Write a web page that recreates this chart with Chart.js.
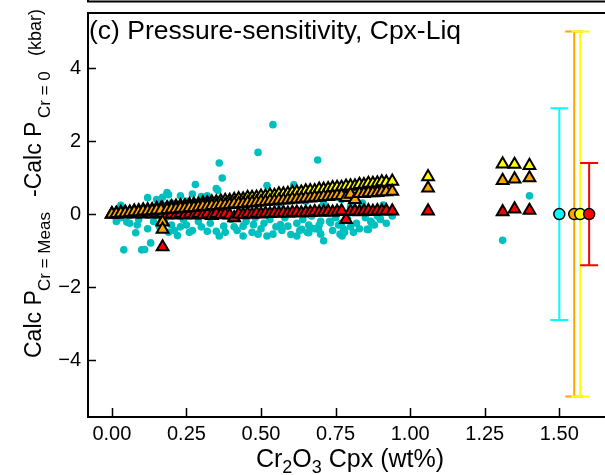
<!DOCTYPE html>
<html>
<head>
<meta charset="utf-8">
<script src="https://cdn.jsdelivr.net/npm/chart.js@4.4.0/dist/chart.umd.min.js"></script>
<style>
  html, body { margin: 0; padding: 0; background: #fff; overflow: hidden; }
  #wrap { width: 640px; height: 475px; }
</style>
</head>
<body>
<div id="wrap"><canvas id="chart" width="640" height="475"></canvas></div>
<script>
const xTicks = [0, 0.25, 0.5, 0.75, 1.0, 1.25, 1.5];
const yTicks = [-4, -2, 0, 2, 4];

// cyan dots (Cpx-Liq, all)
const cyanX = [
  0.54, 0.49, 0.69, 0.36, 0.37, 0.28, 0.35, 0.355, 0.32, 0.52,
  0.61, 0.185, 0.17, 0.15, 0.19, 0.12, 0.23, 0.27, 0.30, 0.03,
  1.40, 1.31, 0.04, 0.10, 0.11, 0.13, 0.08, 0.22, 0.71, 0.32,
  0.35, 0.375, 0.41, 0.44, 0.475, 0.50, 0.52, 0.54, 0.565, 0.59,
  0.60, 0.63, 0.655, 0.86, 0.87, 0.90, 0.68, 0.70, 0.74, 0.76,
  0.78, 0.80, 0.82, 0.05, 0.06, 0.01, 0.02, 0.25, 0.27, 0.29,
  0.24, 0.26, 0.30, 0.33, 0.38, 0.40, 0.42, 0.45, 0.47, 0.48,
  0.51, 0.53, 0.55, 0.57, 0.58, 0.62, 0.64, 0.66, 0.67, 0.73,
  0.75, 0.77, 0.79, 0.83, 0.85, 0.88, 0.92, 0.94, 0.14, 0.16,
  0.18, 0.20, 0.21, 0.12, 0.09, 0.07, 0.11, 0.13, 0.15, 0.17,
  0.20, 0.22, 0.25, 0.28, 0.31, 0.34, 0.36, 0.39, 0.42, 0.44,
  0.46, 0.50, 0.53, 0.56, 0.58, 0.60, 0.63, 0.65, 0.68, 0.71,
  0.74, 0.77, 0.80, 0.84, 0.44, 0.49, 0.36, 0.23, 0.19, 0.03,
  0.085, 0.015, 0.62, 0.695, 0.765, 0.81, 0.89, 0.935, 0.91, 0.637,
  0.66, 0.666, 0.693, 0.70, 0.733, 0.767, 0.772, 0.777, 0.856, 0.868,
  0.90
];
const cyanY = [
  2.45, 1.69, 1.48, 1.40, 0.99, 0.81, 0.70, 0.65, 0.50, 0.78,
  0.80, 0.59, 0.46, 0.40, 0.53, 0.45, 0.50, 0.55, 0.48, 0.24,
  0.50, -0.72, -0.98, -0.98, -0.97, -0.79, -0.51, -0.59, -0.73, -0.47,
  -0.47, -0.33, -0.35, -0.33, -0.29, -0.40, -0.60, -0.55, -0.29, -0.33,
  -0.56, -0.45, -0.50, -0.42, -0.23, -0.12, -0.40, -0.55, -0.45, -0.30,
  -0.50, -0.35, -0.25, -0.22, -0.25, -0.06, 0.05, -0.30, -0.45, -0.20,
  -0.15, -0.50, -0.35, -0.25, -0.50, -0.15, -0.45, -0.20, -0.50, -0.10,
  -0.25, -0.15, -0.35, -0.45, -0.10, -0.25, -0.15, -0.30, -0.05, -0.20,
  -0.10, -0.25, -0.12, -0.40, -0.10, -0.30, -0.25, -0.05, -0.20, -0.35,
  -0.10, -0.30, -0.45, -0.40, -0.15, 0.10, 0.15, 0.05, 0.20, 0.25,
  0.30, 0.15, 0.35, 0.25, 0.30, 0.20, 0.40, 0.30, 0.45, 0.25,
  0.35, 0.40, 0.50, 0.30, 0.55, 0.40, 0.60, 0.35, 0.50, 0.30,
  0.55, 0.40, 0.20, 0.30, -0.60, -0.55, -0.60, -0.35, -0.50, -0.10,
  -0.30, -0.20, -0.60, -0.30, -0.55, -0.50, -0.05, 0.10, 0.25, -0.42,
  -0.51, -0.38, -0.42, -0.20, -0.24, -0.29, -0.60, -0.42, -0.42, -0.20,
  -0.15
];

// triangles: same Cr2O3 values, three pressure models
const triX = [
  0.00, 0.015, 0.03, 0.045, 0.06, 0.075, 0.09, 0.105, 0.12, 0.135,
  0.15, 0.165, 0.17, 0.17, 0.185, 0.20, 0.215, 0.23, 0.245, 0.26,
  0.275, 0.29, 0.305, 0.32, 0.335, 0.35, 0.365, 0.38, 0.395, 0.41,
  0.425, 0.44, 0.455, 0.47, 0.485, 0.50, 0.515, 0.53, 0.545, 0.56,
  0.575, 0.59, 0.605, 0.62, 0.635, 0.65, 0.665, 0.68, 0.695, 0.71,
  0.725, 0.74, 0.755, 0.77, 0.785, 0.80, 0.815, 0.83, 0.845, 0.86,
  0.875, 0.89, 0.905, 0.92, 0.94, 1.06, 1.31, 1.35, 1.40
];
const yellowY = [
  0.00, 0.02, 0.04, 0.05, 0.05, 0.08, 0.09, 0.11, 0.12, 0.12,
  0.15, 0.16, -0.20, 0.15, 0.17, 0.20, 0.21, 0.23, 0.23, 0.26,
  0.27, 0.27, 0.30, 0.31, 0.33, 0.33, 0.36, 0.37, 0.37, 0.40,
  0.42, 0.41, 0.45, 0.45, 0.46, 0.49, 0.49, 0.52, 0.51, 0.55,
  0.55, 0.56, 0.59, 0.60, 0.60, 0.63, 0.64, 0.64, 0.68, 0.68,
  0.69, 0.72, 0.73, 0.73, 0.76, 0.77, 0.77, 0.81, 0.80, 0.84,
  0.84, 0.85, 0.88, 0.87, 0.90, 1.02, 1.37, 1.36, 1.33
];
const orangeY = [
  0.00, 0.01, 0.03, 0.03, 0.04, 0.06, 0.06, 0.08, 0.08, 0.09,
  0.11, 0.11, -0.22, -0.42, 0.12, 0.14, 0.14, 0.16, 0.16, 0.18,
  0.18, 0.19, 0.21, 0.21, 0.23, 0.23, 0.25, 0.25, 0.26, 0.28,
  0.28, 0.29, 0.31, 0.31, 0.32, 0.34, 0.34, 0.36, 0.36, 0.38,
  0.38, 0.39, 0.41, 0.41, 0.42, 0.44, 0.44, 0.46, 0.46, 0.48,
  0.48, 0.49, 0.51, 0.51, 0.45, 0.54, 0.40, 0.56, 0.56, 0.58,
  0.58, 0.59, 0.61, 0.61, 0.62, 0.71, 0.92, 0.96, 0.99
];
const redY = [
  0.00, 0.00, 0.01, 0.00, 0.01, 0.00, 0.01, 0.00, 0.01, 0.00,
  0.01, 0.00, -0.90, 0.01, -0.02, 0.00, -0.03, 0.01, -0.02, 0.00,
  -0.03, 0.01, -0.02, 0.00, -0.04, 0.01, -0.02, 0.00, -0.03, -0.10,
  0.00, -0.02, 0.01, -0.01, 0.02, 0.00, 0.02, 0.01, 0.03, 0.02,
  0.04, 0.02, 0.04, 0.05, 0.03, 0.05, 0.04, 0.06, 0.05, 0.06,
  0.07, 0.05, 0.07, 0.08, -0.15, 0.07, 0.08, 0.06, 0.08, 0.09,
  0.07, 0.09, 0.08, 0.09, 0.08, 0.08, 0.06, 0.14, 0.10
];

// mean offsets with 1 sigma bars
const errX = [1.50, 1.55, 1.57, 1.60];
const errY = [0, 0, 0, 0];
const errSize = [2.9, 5.0, 5.0, 1.4];
const errColors = ['#00FFFF', '#FFA500', '#FFFF00', '#FF0000'];

const FONT = '"Liberation Sans", Arial, Helvetica, sans-serif';

function drawRich(ctx, parts, x, y) {
  let cx = x;
  parts.forEach(p => {
    ctx.font = p.s + 'px ' + FONT;
    const px = (p.at !== undefined) ? x + p.at : cx;
    ctx.fillText(p.t, px, y + (p.dy || 0));
    cx = px + ctx.measureText(p.t).width;
  });
  return cx - x;
}
function richWidth(ctx, parts) {
  let w = 0;
  parts.forEach(p => {
    ctx.font = p.s + 'px ' + FONT;
    w += ctx.measureText(p.t).width;
  });
  return w;
}

const decor = {
  id: 'decor',
  beforeDatasetsDraw(chart) {
    const ctx = chart.ctx;
    const xs = chart.scales.x, ys = chart.scales.y;
    ctx.save();
    ctx.lineWidth = 2;
    errX.forEach((v, i) => {
      const px = xs.getPixelForValue(v);
      const top = ys.getPixelForValue(errY[i] + errSize[i]);
      const bot = ys.getPixelForValue(errY[i] - errSize[i]);
      ctx.strokeStyle = errColors[i];
      ctx.beginPath();
      ctx.moveTo(px, top); ctx.lineTo(px, bot);
      ctx.moveTo(px - 9, top); ctx.lineTo(px + 9, top);
      ctx.moveTo(px - 9, bot); ctx.lineTo(px + 9, bot);
      ctx.stroke();
    });
    ctx.restore();
  },
  afterDraw(chart) {
    const ctx = chart.ctx;
    const a = chart.chartArea;
    const xs = chart.scales.x, ys = chart.scales.y;
    ctx.save();
    ctx.strokeStyle = '#000';
    ctx.fillStyle = '#000';

    // frame of the panel above (only its bottom edge shows)
    ctx.lineWidth = 2;
    ctx.beginPath();
    ctx.moveTo(a.left, 0); ctx.lineTo(a.left, 1.5); ctx.lineTo(chart.width, 1.5);
    ctx.stroke();

    // frame
    ctx.strokeRect(a.left, a.top, a.right - a.left, a.bottom - a.top);

    // inward ticks
    ctx.lineWidth = 1.5;
    ctx.beginPath();
    xTicks.forEach(v => {
      const px = Math.round(xs.getPixelForValue(v)) + 0.5;
      ctx.moveTo(px, a.bottom); ctx.lineTo(px, a.bottom - 9);
    });
    yTicks.forEach(v => {
      const py = Math.round(ys.getPixelForValue(v)) + 0.5;
      ctx.moveTo(a.left, py); ctx.lineTo(a.left + 8, py);
    });
    ctx.stroke();

    // panel title
    ctx.textBaseline = 'alphabetic';
    ctx.textAlign = 'left';
    ctx.font = '26.5px ' + FONT;
    ctx.fillText('(c) Pressure-sensitivity, Cpx-Liq', a.left + 1, 39);

    // x axis title
    const xParts = [
      { t: 'Cr', s: 25 }, { t: '2', s: 18, dy: 6 }, { t: 'O', s: 25 },
      { t: '3', s: 18, dy: 6 }, { t: ' Cpx (wt%)', s: 25 }
    ];
    const xw = richWidth(ctx, xParts);
    drawRich(ctx, xParts, 350 - xw / 2, 467);

    // y axis title, read bottom to top
    const yParts = [
      { t: 'Calc P', s: 23, at: 0 },
      { t: 'Cr = Meas', s: 17, dy: 9, at: 67 },
      { t: '-Calc P', s: 23, at: 161 },
      { t: 'Cr = 0', s: 17, dy: 9, at: 240 },
      { t: '(kbar)', s: 18, at: 302 }
    ];
    ctx.translate(41, 358);
    ctx.rotate(-Math.PI / 2);
    drawRich(ctx, yParts, 0, 0);
    ctx.restore();
  }
};

const pts = (xa, ya) => xa.map((x, i) => ({ x: x, y: ya[i] }));

new Chart(document.getElementById('chart'), {
  type: 'scatter',
  data: {
    datasets: [
      {
        data: pts(cyanX, cyanY), order: 5,
        pointRadius: 3.8, backgroundColor: '#00BFBF', borderWidth: 0
      },
      {
        data: pts(triX, yellowY), order: 4, pointStyle: 'triangle',
        pointRadius: 6.8, backgroundColor: '#FFFF00', borderColor: '#000', borderWidth: 2
      },
      {
        data: pts(triX, redY), order: 3, pointStyle: 'triangle',
        pointRadius: 6.8, backgroundColor: '#FF0000', borderColor: '#000', borderWidth: 2
      },
      {
        data: pts(triX, orangeY), order: 2, pointStyle: 'triangle',
        pointRadius: 6.8, backgroundColor: '#FFA500', borderColor: '#000', borderWidth: 2
      },
      {
        data: pts(errX, errY), order: 1, pointStyle: 'circle',
        pointRadius: 5.5, backgroundColor: errColors, borderColor: '#000', borderWidth: 1.5
      }
    ]
  },
  options: {
    responsive: false,
    animation: false,
    events: [],
    layout: { padding: { top: 13, right: 0, bottom: 0, left: 0 } },
    plugins: { legend: { display: false }, tooltip: { enabled: false } },
    scales: {
      x: {
        type: 'linear', min: -0.08, max: 1.741,
        grid: { display: false, drawTicks: false },
        border: { display: false },
        afterBuildTicks: s => { s.ticks = xTicks.map(v => ({ value: v })); },
        afterFit: s => { s.height = 58; s.paddingLeft = 0; s.paddingRight = 0; },
        ticks: {
          font: { family: FONT, size: 20 }, color: '#000', padding: 5,
          maxRotation: 0, autoSkip: false,
          callback: v => v.toFixed(2)
        }
      },
      y: {
        type: 'linear', min: -5.56, max: 5.51,
        grid: { display: false, drawTicks: false },
        border: { display: false },
        afterBuildTicks: s => { s.ticks = yTicks.map(v => ({ value: v })); },
        afterFit: s => { s.width = 88; s.paddingTop = 0; s.paddingBottom = 0; },
        ticks: {
          font: { family: FONT, size: 20 }, color: '#000', padding: 7,
          callback: v => v < 0 ? '\u2212' + Math.abs(v) : String(v)
        }
      }
    }
  },
  plugins: [decor]
});
</script>
</body>
</html>
